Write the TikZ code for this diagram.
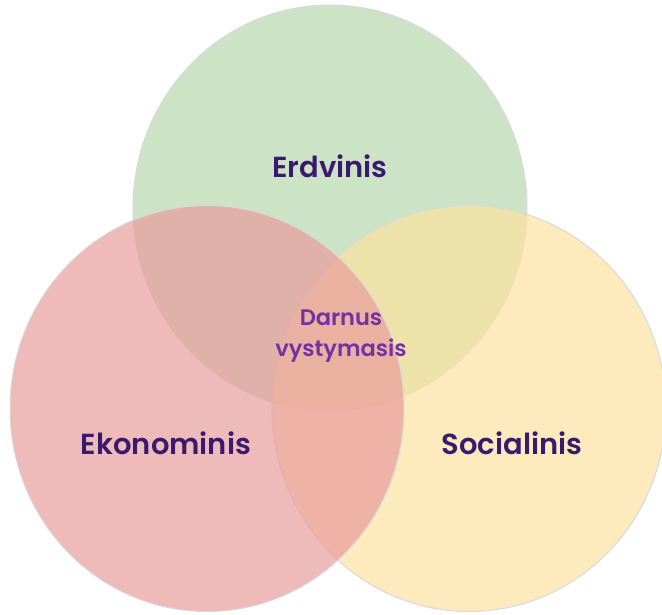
\documentclass[tikz,border=0pt]{standalone}
\usepackage{fontspec}
\setmainfont{Poppins}[BoldFont={Poppins SemiBold}]
\usepackage{xcolor}
\usepackage{tikz}
\usetikzlibrary{shapes.geometric}

\definecolor{erdvgreen}{HTML}{B8D7AC}
\definecolor{ekonred}{HTML}{E89C9C}
\definecolor{socyellow}{HTML}{FCE2A1}
\definecolor{labelpurple}{HTML}{3A1A6E}
\definecolor{centerpurple}{HTML}{7332A3}
\definecolor{rimgray}{HTML}{D9D9D9}

\tikzset{
  venn/.style={ellipse, draw=rimgray, line width=1pt, minimum width=394pt, minimum height=406pt, inner sep=0pt, fill opacity=0.7},
  sphere/.style={font=\fontsize{29}{32}\selectfont\bfseries, text=labelpurple},
  core/.style={font=\fontsize{22.5}{31}\selectfont\bfseries, text=centerpurple, align=center}
}

\begin{document}
\begin{tikzpicture}[x=1pt, y=-1pt]
      \useasboundingbox (0,0) rectangle (662,615);
      \clip (0,0) rectangle (662,615);

      % Three circles
      \node[venn, fill=erdvgreen] (erdvc) at (330,208) {};
      \node[venn, fill=socyellow] (socc) at (469,408.5) {};
      \node[venn, fill=ekonred] (ekonc) at (207,408.5) {};

      % Labels
      \node[sphere] (erdv) at (330,166) {Erdvinis};
      \node[sphere] (ekon) at (166,443) {Ekonominis};
      \node[sphere] (soc) at (512,443) {Socialinis};

      \node[core] (darnus) at (341,336) {Darnus\\vystymasis};
    \end{tikzpicture}
\end{document}
